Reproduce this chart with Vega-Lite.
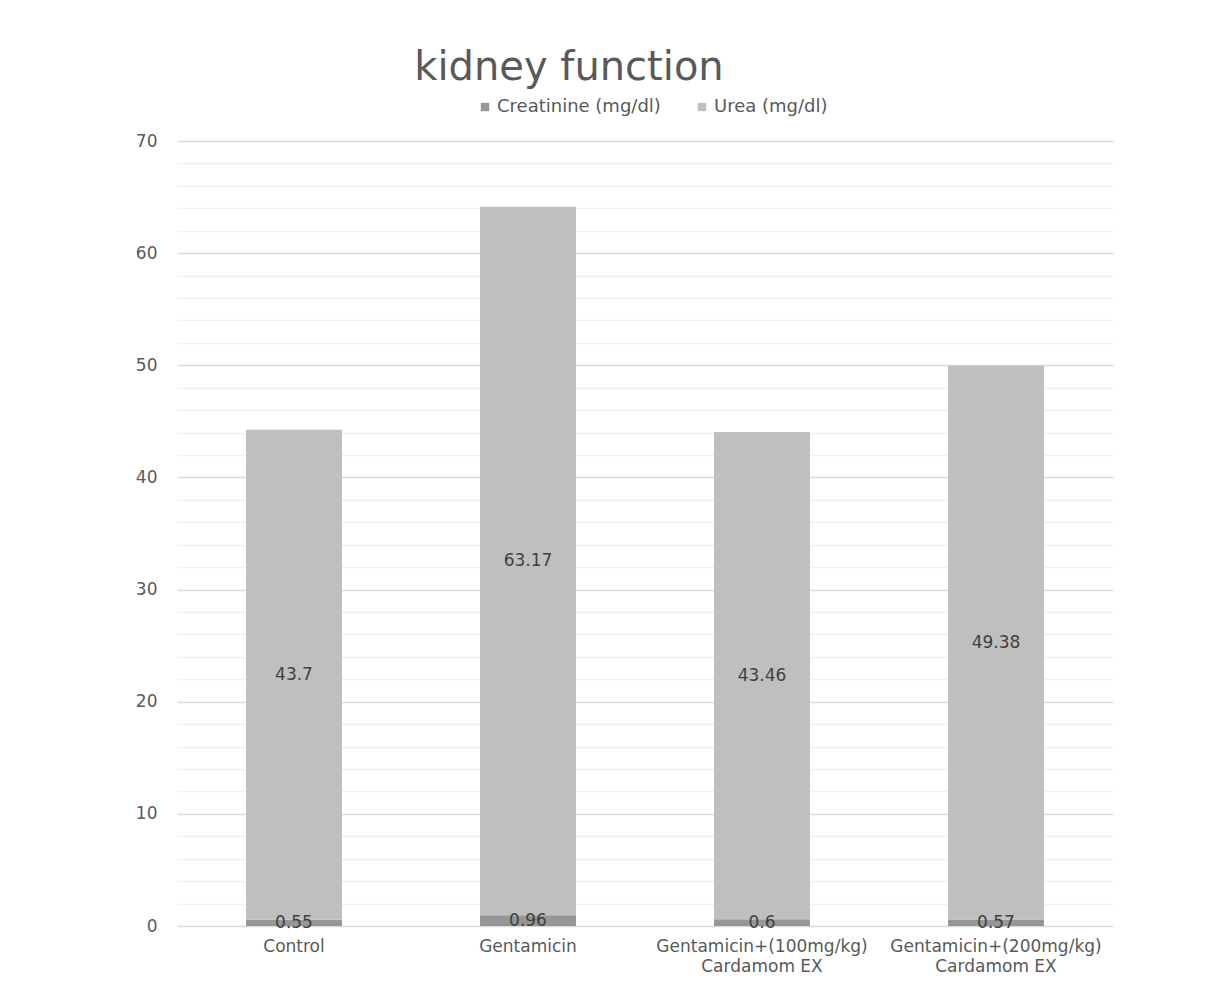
{
  "$schema": "https://vega.github.io/schema/vega-lite/v6.json",
  "width": 936,
  "height": 785,
  "autosize": {"type": "none"},
  "padding": {"left": 177, "top": 141, "right": 106, "bottom": 68},
  "background": "white",
  "title": {
    "text": "kidney function",
    "font": "DejaVu Sans",
    "fontSize": 40,
    "fontWeight": "normal",
    "color": "#595959",
    "anchor": "middle",
    "frame": "group",
    "baseline": "alphabetic",
    "dx": -76,
    "offset": -22
  },
  "data": {
    "values": [
      {"group": "Control", "measure": "Creatinine (mg/dl)", "value": 0.55, "ord": 1},
      {"group": "Control", "measure": "Urea (mg/dl)", "value": 43.7, "ord": 2},
      {"group": "Gentamicin", "measure": "Creatinine (mg/dl)", "value": 0.96, "ord": 1},
      {"group": "Gentamicin", "measure": "Urea (mg/dl)", "value": 63.17, "ord": 2},
      {"group": "Gentamicin+(100mg/kg)|Cardamom EX", "measure": "Creatinine (mg/dl)", "value": 0.6, "ord": 1},
      {"group": "Gentamicin+(100mg/kg)|Cardamom EX", "measure": "Urea (mg/dl)", "value": 43.46, "ord": 2},
      {"group": "Gentamicin+(200mg/kg)|Cardamom EX", "measure": "Creatinine (mg/dl)", "value": 0.57, "ord": 1},
      {"group": "Gentamicin+(200mg/kg)|Cardamom EX", "measure": "Urea (mg/dl)", "value": 49.38, "ord": 2}
    ]
  },
  "transform": [
    {"stack": "value", "groupby": ["group"], "sort": [{"field": "ord"}], "as": ["v0", "v1"]},
    {"calculate": "(datum.v0 + datum.v1) / 2", "as": "vmid"}
  ],
  "encoding": {
    "x": {
      "field": "group",
      "type": "nominal",
      "sort": null,
      "scale": {"paddingInner": 0.59, "paddingOuter": 0.295},
      "axis": {
        "title": null,
        "labelAngle": 0,
        "labelExpr": "split(datum.label, '|')",
        "labelFont": "DejaVu Sans",
        "labelFontSize": 17,
        "labelColor": "#595959",
        "labelLineHeight": 20,
        "labelPadding": 12,
        "labelLimit": 400,
        "domain": false,
        "ticks": false,
        "grid": false
      }
    }
  },
  "layer": [
    {
      "mark": {"type": "bar"},
      "encoding": {
        "y": {
          "field": "v0",
          "type": "quantitative",
          "scale": {"domain": [0, 70], "nice": false},
          "axis": {
            "title": null,
            "values": [0,2,4,6,8,10,12,14,16,18,20,22,24,26,28,30,32,34,36,38,40,42,44,46,48,50,52,54,56,58,60,62,64,66,68,70],
            "tickCount": 100,
            "format": "d",
            "labelExpr": "datum.value % 10 === 0 ? datum.label : ''",
            "labelOverlap": false,
            "labelFont": "DejaVu Sans",
            "labelFontSize": 17,
            "labelColor": "#595959",
            "labelPadding": 20,
            "domain": false,
            "ticks": false,
            "grid": true,
            "gridColor": {"condition": {"test": "datum.value % 10 === 0", "value": "#d9d9d9"}, "value": "#f0f0f0"},
            "gridWidth": 1.5,
            "zindex": 0
          }
        },
        "y2": {"field": "v1"},
        "color": {
          "field": "measure",
          "type": "nominal",
          "scale": {"domain": ["Creatinine (mg/dl)", "Urea (mg/dl)"], "range": ["#969696", "#bfbfbf"]},
          "legend": {
            "title": null,
            "orient": "none",
            "direction": "horizontal",
            "legendX": 299,
            "legendY": -43,
            "symbolType": "square",
            "symbolSize": 70,
            "symbolStrokeWidth": 0,
            "labelFont": "DejaVu Sans",
            "labelFontSize": 18,
            "labelColor": "#595959",
            "columnPadding": 32,
            "labelOffset": 3,
            "labelLimit": 300
          }
        }
      }
    },
    {
      "mark": {"type": "text", "font": "DejaVu Sans", "fontSize": 17, "color": "#404040", "baseline": "middle"},
      "encoding": {
        "y": {"field": "vmid", "type": "quantitative"},
        "text": {"field": "value", "type": "quantitative"}
      }
    }
  ],
  "config": {"view": {"stroke": null}}
}
